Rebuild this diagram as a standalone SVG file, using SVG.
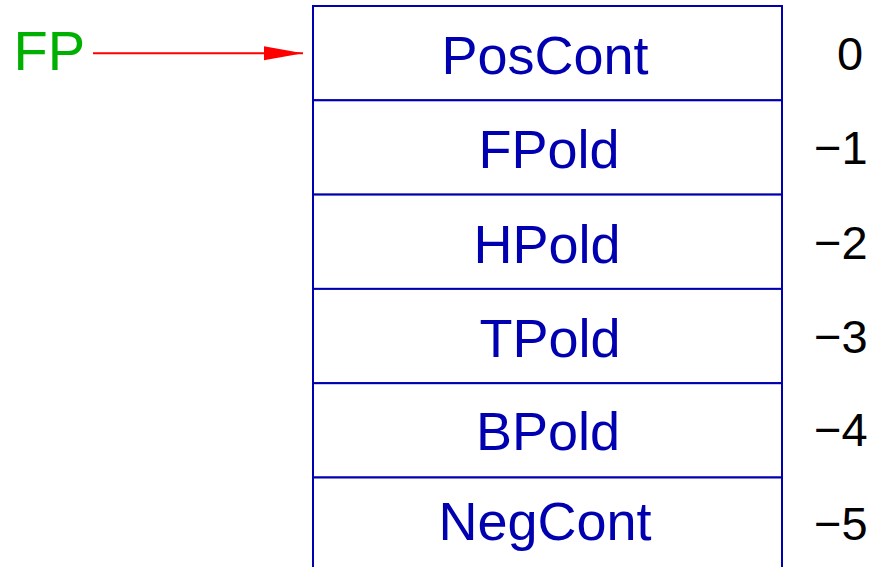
<svg xmlns="http://www.w3.org/2000/svg" width="873" height="567" viewBox="0 0 873 567">
<style>
.cell{fill:#ffffff;stroke:#0000b0;stroke-width:2}
.lbl{font-family:"Liberation Sans",Arial,sans-serif;font-size:54px;fill:#0000b0;text-anchor:middle}
.num{font-family:"Liberation Sans",Arial,sans-serif;font-size:47px;fill:#000000}
.fp{font-family:"Liberation Sans",Arial,sans-serif;font-size:56px;fill:#00b000}
</style>
<defs>
<marker id="arr" markerUnits="userSpaceOnUse" markerWidth="40" markerHeight="16" refX="39" refY="7" orient="auto">
<path d="M0,0 L39,7 L0,14 Z" fill="#ff0000"/>
</marker>
</defs>
<rect x="0" y="0" width="873" height="567" fill="#ffffff"/>
<g id="cell0"><rect class="cell" x="313" y="6" width="469" height="94.3"/><text class="lbl" x="545" y="74">PosCont</text><text class="num" x="837" y="70">0</text></g>
<g id="cell1"><rect class="cell" x="313" y="100.3" width="469" height="94.3"/><text class="lbl" x="549" y="168">FPold</text><text class="num" x="814" y="164">−1</text></g>
<g id="cell2"><rect class="cell" x="313" y="194.6" width="469" height="94.3"/><text class="lbl" x="547" y="262.5">HPold</text><text class="num" x="814" y="259">−2</text></g>
<g id="cell3"><rect class="cell" x="313" y="288.9" width="469" height="94.3"/><text class="lbl" x="550" y="356.5">TPold</text><text class="num" x="814" y="353">−3</text></g>
<g id="cell4"><rect class="cell" x="313" y="383.2" width="469" height="94.3"/><text class="lbl" x="548" y="450">BPold</text><text class="num" x="814" y="446">−4</text></g>
<g id="cell5"><rect class="cell" x="313" y="477.5" width="469" height="94.3"/><text class="lbl" x="545" y="540">NegCont</text><text class="num" x="814" y="540">−5</text></g>
<g id="fp"><text class="fp" x="13.5" y="69.5">FP</text></g>
<g id="connectors"><line x1="93" y1="53.3" x2="303" y2="53.3" stroke="#ff0000" stroke-width="2" marker-end="url(#arr)"/></g>
</svg>
